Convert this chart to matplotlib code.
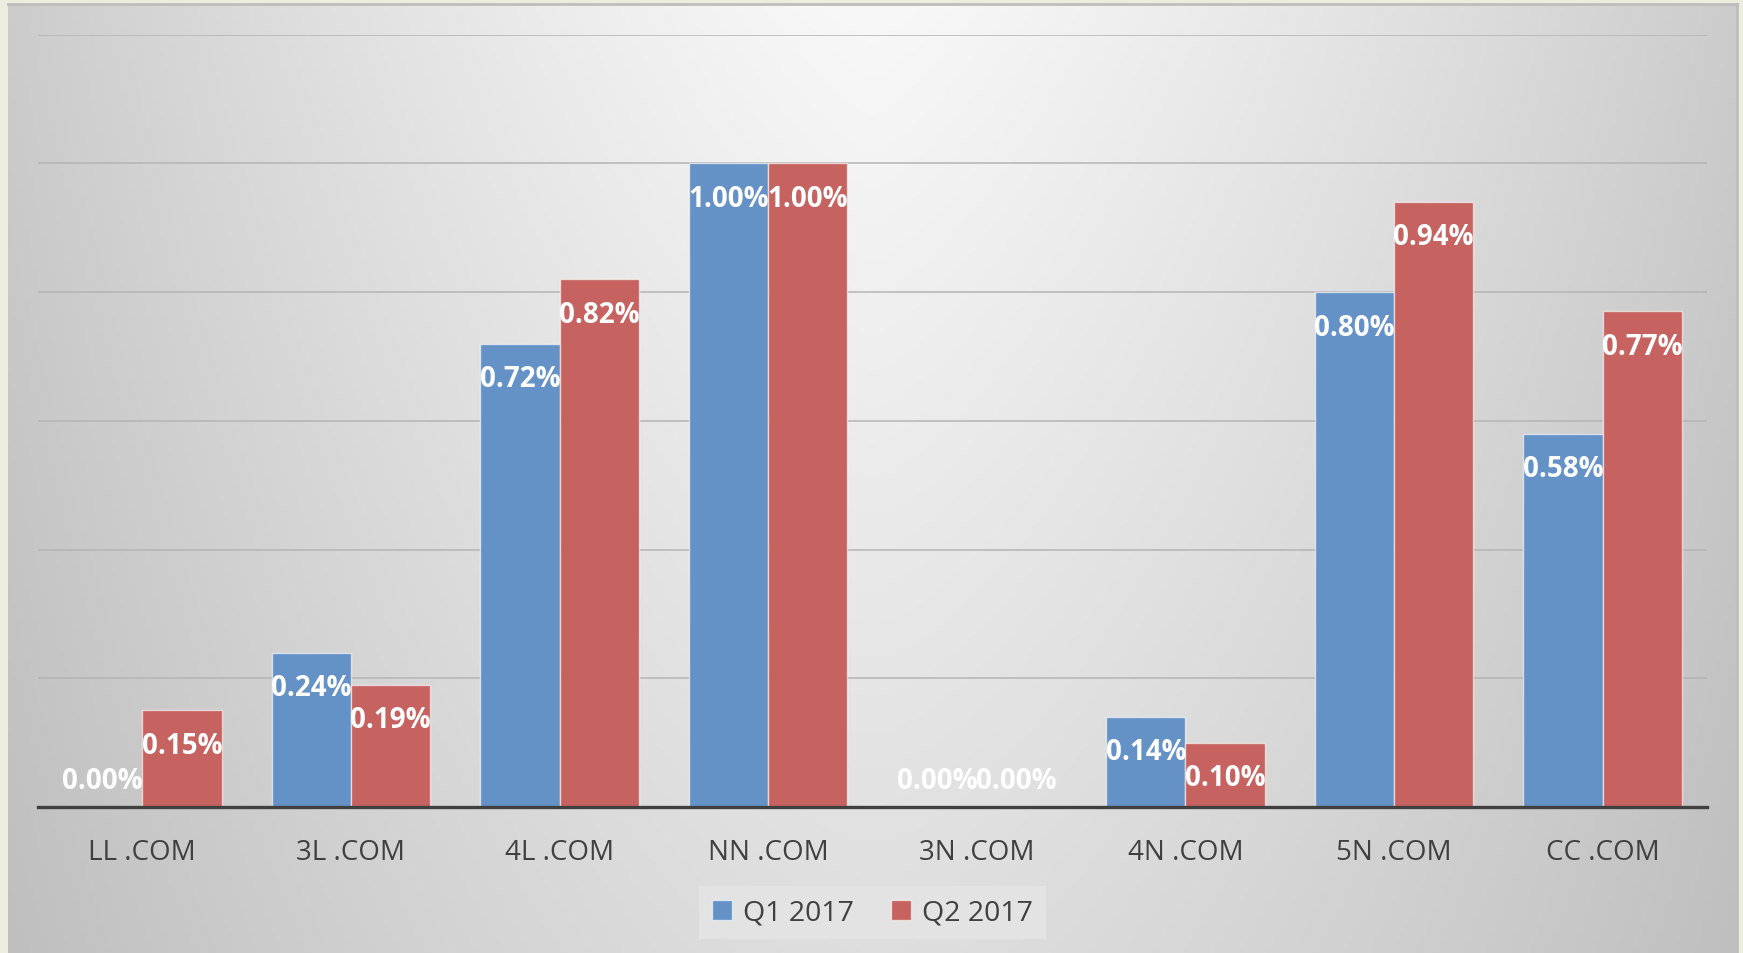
import numpy as np
import matplotlib
matplotlib.use("Agg")
import matplotlib.pyplot as plt
from matplotlib.patches import Patch

categories = ["LL .COM", "3L .COM", "4L .COM", "NN .COM", "3N .COM", "4N .COM", "5N .COM", "CC .COM"]
series_names = ["Q1 2017", "Q2 2017"]
q1 = [0.00, 0.24, 0.72, 1.00, 0.00, 0.14, 0.80, 0.58]
q2 = [0.15, 0.19, 0.82, 1.00, 0.00, 0.10, 0.94, 0.77]

colors = ["#6592C6", "#C6625F"]
W, H = 1743, 954

plt.rcParams['font.family'] = ['Open Sans', 'DejaVu Sans']

fig = plt.figure(figsize=(W / 100, H / 100), dpi=100)
fig.patch.set_facecolor("#EEEBDF")

# panel background with soft gradient
bg = fig.add_axes([8 / W, 0, (1737 - 8) / W, (H - 5) / H])
bg.set_zorder(0)
nx, ny = 400, 220
xs = np.linspace(-1, 1, nx)
ys = np.linspace(0, 1, ny)
X, Y = np.meshgrid(xs, ys)
ax_ = np.abs(X)
val = 248 - 44 * ax_ ** 1.3 - 26 * Y * (1 - 0.5 * ax_)
img = np.dstack([val, val, val]) / 255.0
bg.imshow(np.clip(img, 0, 1), aspect="auto", extent=[0, 1, 1, 0])
bg.set_xlim(0, 1)
bg.set_ylim(1, 0)
bg.set_xticks([])
bg.set_yticks([])
for s in ["left", "bottom"]:
    bg.spines[s].set_visible(False)
for s in ["top", "right"]:
    bg.spines[s].set_color("#BDBDBD")
    bg.spines[s].set_linewidth(2)

ax = fig.add_axes([38 / W, (H - 808) / H, (1707 - 38) / W, (808 - 35.6) / H])
ax.set_zorder(1)
ax.patch.set_alpha(0)

x = np.arange(len(categories))
bw = 0.38
ax.set_xlim(-0.5, len(categories) - 0.5)
ax.set_ylim(0, 1.2)

for yv in [0.2, 0.4, 0.6, 0.8, 1.0, 1.2]:
    ax.axhline(yv, color="#B4B4B4", lw=1.1, zorder=0.5)

for i, (vals, c) in enumerate(zip([q1, q2], colors)):
    pos = x + (i - 0.5) * bw
    ax.bar(pos, vals, width=bw, color=c, edgecolor=(1, 1, 1, 0.6), linewidth=1.0, zorder=2,
           label=series_names[i])
    for p, v in zip(pos, vals):
        if v > 0:
            ax.annotate(f"{v:.2f}%", xy=(p, v), xytext=(0, -35), textcoords="offset pixels",
                        ha="center", va="center", color="white", fontsize=20, fontweight="bold", zorder=3)
        else:
            ax.annotate(f"{v:.2f}%", xy=(p, 0), xytext=(0, 26), textcoords="offset pixels",
                        ha="center", va="center", color="white", fontsize=20, fontweight="bold", zorder=3)

ax.axhline(0, color="#404040", lw=2.4, zorder=4, clip_on=False)

ax.set_yticks([])
ax.set_xticks(x)
ax.set_xticklabels(categories, fontsize=20, color="#404040")
ax.tick_params(axis="x", length=0, pad=22)
for s in ax.spines.values():
    s.set_visible(False)

handles = [Patch(facecolor=colors[0], edgecolor=(1, 1, 1, 0.6)), Patch(facecolor=colors[1], edgecolor=(1, 1, 1, 0.6))]
leg = fig.legend(handles, series_names, loc="center", bbox_to_anchor=(872.5 / W, 1 - 913.5 / H),
                 ncol=2, fontsize=20.5, frameon=True, facecolor="#E3E3E3", edgecolor="none",
                 handlelength=0.7, handleheight=0.7, handletextpad=0.4, columnspacing=1.3,
                 borderpad=0.45, fancybox=False, labelcolor="#404040")
leg.get_frame().set_alpha(1)

fig.savefig("out.png", dpi=100, facecolor=fig.get_facecolor())
